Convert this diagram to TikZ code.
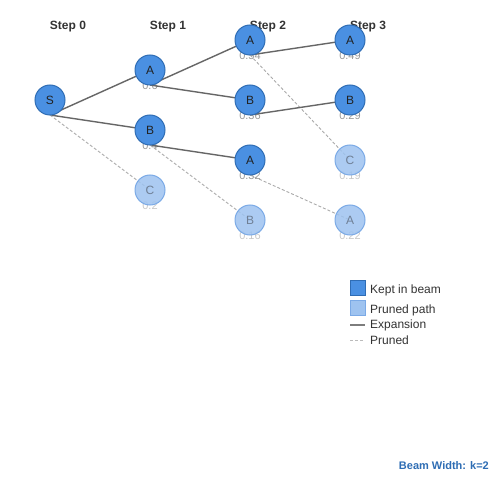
\documentclass[tikz,border=0pt]{standalone}
\usepackage{fontspec}
\setmainfont{Liberation Sans}
\begin{document}
\begin{tikzpicture}[x=1bp,y=-1bp,
  kept/.style={circle,draw=keptd,fill=keptf,line width=1bp,minimum size=30bp,inner sep=0pt,font=\fontsize{12bp}{14bp}\selectfont,text=txtdark},
  pruned/.style={circle,draw=prund,fill=prunf,line width=1bp,minimum size=30bp,inner sep=0pt,font=\fontsize{12bp}{14bp}\selectfont,text=txtprun,fill opacity=0.85,text opacity=1},
  score/.style={font=\fontsize{11bp}{13bp}\selectfont,text=scorek},
  pscore/.style={font=\fontsize{11bp}{13bp}\selectfont,text=scorep},
  hdr/.style={font=\bfseries\fontsize{12bp}{14bp}\selectfont,text=hdrc},
  expan/.style={draw=edgec,line width=1.4bp},
  prunedge/.style={draw=pedgec,line width=0.9bp,dash pattern=on 3bp off 2bp},
  leg/.style={font=\fontsize{12bp}{14bp}\selectfont,text=legc,anchor=west,inner sep=0pt}
]
\definecolor{keptf}{HTML}{4A90E2}
\definecolor{keptd}{HTML}{2F6DB5}
\definecolor{prunf}{HTML}{9EC3F0}
\definecolor{prund}{HTML}{7BAAE6}
\definecolor{txtdark}{HTML}{222222}
\definecolor{txtprun}{HTML}{6F7F95}
\definecolor{scorek}{HTML}{999999}
\definecolor{scorep}{HTML}{C8C8C8}
\definecolor{hdrc}{HTML}{333333}
\definecolor{edgec}{HTML}{666666}
\definecolor{pedgec}{HTML}{AAAAAA}
\definecolor{legc}{HTML}{333333}
\definecolor{beamc}{HTML}{2E6DB4}
\useasboundingbox[fill=white] (0,0) rectangle (500,500);

% headers
\node[hdr] (h0) at (68,27) {Step 0};
\node[hdr] (h1) at (168,27) {Step 1};
\node[hdr] (h2) at (268,27) {Step 2};
\node[hdr] (h3) at (368,27) {Step 3};

% scores
\node[score] (sa1) at (150,85.5) {0.6};
\node[score] (sb1) at (150,145.5) {0.4};
\node[pscore] (sc1) at (150,205.5) {0.2};
\node[score] (sa2) at (250,55.5) {0.54};
\node[score] (sb2) at (250,115.5) {0.36};
\node[score] (sa2b) at (250,175.5) {0.32};
\node[pscore] (sb2b) at (250,235.5) {0.16};
\node[score] (sa3) at (350,55.5) {0.49};
\node[score] (sb3) at (350,115.5) {0.29};
\node[pscore] (sc3) at (350,175.5) {0.19};
\node[pscore] (sa3b) at (350,235.5) {0.22};

% anchor points at bottoms
\coordinate (pS) at (50,115);
\coordinate (pA1) at (150,85);
\coordinate (pB1) at (150,145);
\coordinate (pA2) at (250,55);
\coordinate (pB2) at (250,115);
\coordinate (pA2b) at (250,175);

% centres
\coordinate (cS) at (50,100);
\coordinate (cA1) at (150,70);
\coordinate (cB1) at (150,130);
\coordinate (cC1) at (150,190);
\coordinate (cA2) at (250,40);
\coordinate (cB2) at (250,100);
\coordinate (cA2b) at (250,160);
\coordinate (cB2b) at (250,220);
\coordinate (cA3) at (350,40);
\coordinate (cB3) at (350,100);
\coordinate (cC3) at (350,160);
\coordinate (cA3b) at (350,220);

% edges
\draw[expan] (pS) -- (cA1);
\draw[expan] (pS) -- (cB1);
\draw[prunedge] (pS) -- (cC1);
\draw[expan] (pA1) -- (cA2);
\draw[expan] (pA1) -- (cB2);
\draw[expan] (pB1) -- (cA2b);
\draw[prunedge] (pB1) -- (cB2b);
\draw[expan] (pA2) -- (cA3);
\draw[prunedge] (pA2) -- (cC3);
\draw[expan] (pB2) -- (cB3);
\draw[prunedge] (pA2b) -- (cA3b);

% nodes
\node[kept] (S) at (cS) {S};
\node[kept] (A1) at (cA1) {A};
\node[kept] (B1) at (cB1) {B};
\node[pruned] (C1) at (cC1) {C};
\node[kept] (A2) at (cA2) {A};
\node[kept] (B2) at (cB2) {B};
\node[kept] (A2b) at (cA2b) {A};
\node[pruned] (B2b) at (cB2b) {B};
\node[kept] (A3) at (cA3) {A};
\node[kept] (B3) at (cB3) {B};
\node[pruned] (C3) at (cC3) {C};
\node[pruned] (A3b) at (cA3b) {A};

% legend
\draw[keptd,fill=keptf,line width=1bp] (350,280) rectangle (365,295);
\node[leg] (l1) at (370,290) {Kept in beam};
\draw[prund,fill=prunf,line width=1bp] (350,300) rectangle (365,315);
\node[leg] (l2) at (370,310) {Pruned path};
\coordinate (e1a) at (350,325);
\coordinate (e1b) at (365,325);
\draw[expan,draw=edgec!85] (e1a) -- (e1b);
\node[leg] (l3) at (370,325) {Expansion};
\coordinate (e2a) at (350,340);
\coordinate (e2b) at (365,340);
\draw[prunedge,draw=pedgec!80] (e2a) -- (e2b);
\node[leg] (l4) at (370,340) {Pruned};

\node[anchor=east,inner sep=0pt,font=\bfseries\fontsize{11bp}{13bp}\selectfont,text=beamc] (bw) at (489,466) {Beam Width: k=2};
\end{tikzpicture}
\end{document}
